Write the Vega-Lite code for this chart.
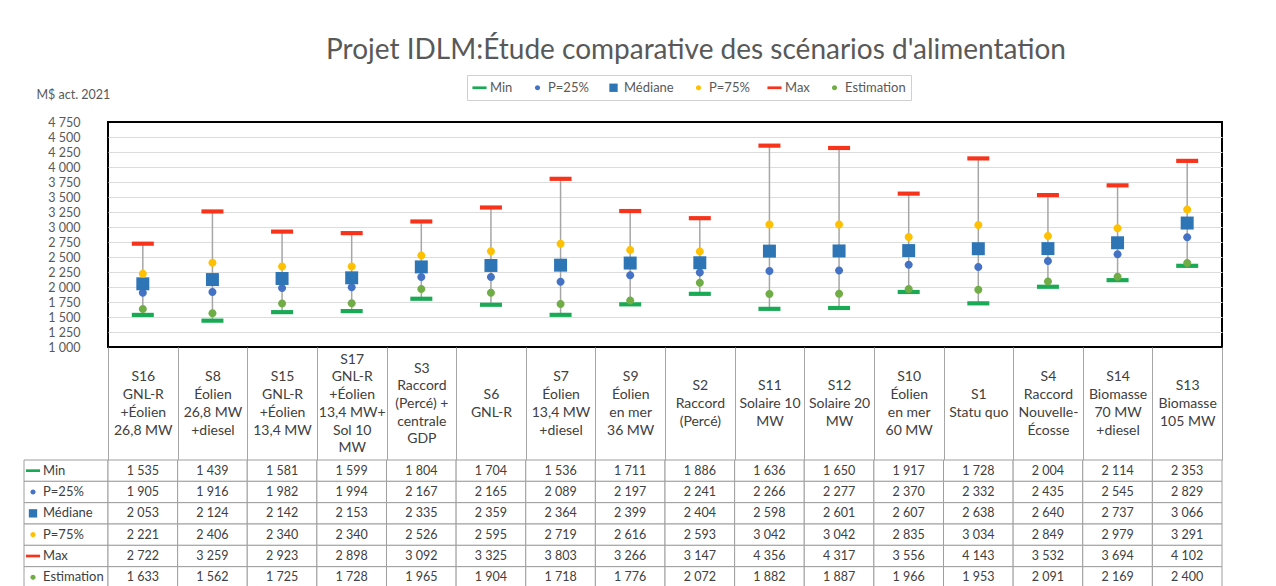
{
  "$schema": "https://vega.github.io/schema/vega-lite/v6.json",
  "background": "white",
  "padding": {"left": 23, "top": 35, "right": 10, "bottom": 0},
  "config": {
    "font": "Lato",
    "view": {"stroke": null},
    "locale": {"number": {"decimal": ",", "thousands": "\u00a0", "grouping": [3], "currency": ["", "\u00a0$"]}}
  },
  "datasets": {
    "scen": [
      {"scn": "S16|GNL-R|+Éolien|26,8 MW", "Min": 1535, "P=25%": 1905, "Médiane": 2053, "P=75%": 2221, "Max": 2722, "Estimation": 1633},
      {"scn": "S8|Éolien|26,8 MW|+diesel", "Min": 1439, "P=25%": 1916, "Médiane": 2124, "P=75%": 2406, "Max": 3259, "Estimation": 1562},
      {"scn": "S15|GNL-R|+Éolien|13,4 MW", "Min": 1581, "P=25%": 1982, "Médiane": 2142, "P=75%": 2340, "Max": 2923, "Estimation": 1725},
      {"scn": "S17|GNL-R|+Éolien|13,4 MW+|Sol 10|MW", "Min": 1599, "P=25%": 1994, "Médiane": 2153, "P=75%": 2340, "Max": 2898, "Estimation": 1728},
      {"scn": "S3|Raccord|(Percé) +|centrale|GDP", "Min": 1804, "P=25%": 2167, "Médiane": 2335, "P=75%": 2526, "Max": 3092, "Estimation": 1965},
      {"scn": "S6|GNL-R", "Min": 1704, "P=25%": 2165, "Médiane": 2359, "P=75%": 2595, "Max": 3325, "Estimation": 1904},
      {"scn": "S7|Éolien|13,4 MW|+diesel", "Min": 1536, "P=25%": 2089, "Médiane": 2364, "P=75%": 2719, "Max": 3803, "Estimation": 1718},
      {"scn": "S9|Éolien|en mer|36 MW", "Min": 1711, "P=25%": 2197, "Médiane": 2399, "P=75%": 2616, "Max": 3266, "Estimation": 1776},
      {"scn": "S2|Raccord|(Percé)", "Min": 1886, "P=25%": 2241, "Médiane": 2404, "P=75%": 2593, "Max": 3147, "Estimation": 2072},
      {"scn": "S11|Solaire 10|MW", "Min": 1636, "P=25%": 2266, "Médiane": 2598, "P=75%": 3042, "Max": 4356, "Estimation": 1882},
      {"scn": "S12|Solaire 20|MW", "Min": 1650, "P=25%": 2277, "Médiane": 2601, "P=75%": 3042, "Max": 4317, "Estimation": 1887},
      {"scn": "S10|Éolien|en mer|60 MW", "Min": 1917, "P=25%": 2370, "Médiane": 2607, "P=75%": 2835, "Max": 3556, "Estimation": 1966},
      {"scn": "S1|Statu quo", "Min": 1728, "P=25%": 2332, "Médiane": 2638, "P=75%": 3034, "Max": 4143, "Estimation": 1953},
      {"scn": "S4|Raccord|Nouvelle-|Écosse", "Min": 2004, "P=25%": 2435, "Médiane": 2640, "P=75%": 2849, "Max": 3532, "Estimation": 2091},
      {"scn": "S14|Biomasse|70 MW|+diesel", "Min": 2114, "P=25%": 2545, "Médiane": 2737, "P=75%": 2979, "Max": 3694, "Estimation": 2169},
      {"scn": "S13|Biomasse|105 MW", "Min": 2353, "P=25%": 2829, "Médiane": 3066, "P=75%": 3291, "Max": 4102, "Estimation": 2400}
    ],
    "rows": [
      {"series": "Min"}, {"series": "P=25%"}, {"series": "Médiane"}, {"series": "P=75%"}, {"series": "Max"}, {"series": "Estimation"}
    ]
  },
  "columns": 2,
  "bounds": "flush",
  "spacing": {"row": 113, "column": 0},
  "concat": [
    {
      "width": 84, "height": 225,
      "data": {"values": []},
      "mark": {"type": "point"},
      "encoding": {}
    },
    {
      "width": 1114, "height": 225,
      "view": {"stroke": "#000000", "strokeWidth": 2},
      "title": {"text": "Projet IDLM:Étude comparative des scénarios d'alimentation", "frame": "group", "anchor": "middle", "dx": 31, "offset": 23.5, "fontSize": 28, "fontWeight": "normal", "color": "#595959"},
      "data": {"name": "scen"},
      "layer": [
        {
          "mark": {"type": "rule", "color": "#A6A6A6", "strokeWidth": 1.5},
          "encoding": {
            "x": {"field": "scn", "type": "nominal", "sort": null, "scale": {"paddingInner": 0, "paddingOuter": 0},
              "axis": {"title": null, "labelAngle": 0, "labelExpr": "split(datum.label, '|')", "tickBand": "extent", "tickSize": 113, "tickColor": "#A6A6A6", "tickWidth": 1, "domain": false,
                "labelPadding": {"condition": [
                  {"test": "length(split(datum.value, '|')) == 2", "value": -65.35},
                  {"test": "length(split(datum.value, '|')) == 3", "value": -74.2},
                  {"test": "length(split(datum.value, '|')) == 5", "value": -91.9},
                  {"test": "length(split(datum.value, '|')) == 6", "value": -100.75}
                ], "value": -83.05},
                "labelBaseline": "middle", "labelFontSize": 14, "labelLineHeight": 17.7, "labelColor": "#404040", "labelLimit": 300, "labelOverlap": false, "labelFlush": false}},
            "y": {"field": "Min", "type": "quantitative", "scale": {"domain": [1000, 4750], "nice": false, "zero": false},
              "axis": {"title": "M$ act. 2021", "values": [1000, 1250, 1500, 1750, 2000, 2250, 2500, 2750, 3000, 3250, 3500, 3750, 4000, 4250, 4500, 4750], "format": ",d", "grid": true, "gridColor": "#DCDCDC", "gridOpacity": {"condition": {"test": "datum.value === 1000 || datum.value === 4750", "value": 0}, "value": 1}, "ticks": false, "domain": false, "labelOverlap": false, "labelPadding": 28, "labelFontSize": 12.5, "labelColor": "#595959", "titleAngle": 0, "titleAlign": "left", "titleBaseline": "middle", "titleX": -72, "titleY": -28, "titleFontWeight": "normal", "titleFontSize": 12.5, "titleColor": "#595959"}},
            "y2": {"field": "Max"}
          }
        },
        {
          "transform": [{"fold": ["Min", "P=25%", "Médiane", "P=75%", "Max", "Estimation"], "as": ["series", "value"]}],
          "mark": {"type": "point", "filled": true, "opacity": 1, "size": 484, "strokeWidth": 0},
          "encoding": {
            "x": {"field": "scn", "type": "nominal", "sort": null},
            "y": {"field": "value", "type": "quantitative",
              "axis": {"title": "M$ act. 2021", "values": [1000, 1250, 1500, 1750, 2000, 2250, 2500, 2750, 3000, 3250, 3500, 3750, 4000, 4250, 4500, 4750], "format": ",d", "grid": true, "gridColor": "#DCDCDC", "gridOpacity": {"condition": {"test": "datum.value === 1000 || datum.value === 4750", "value": 0}, "value": 1}, "ticks": false, "domain": false, "labelOverlap": false, "labelPadding": 28, "labelFontSize": 12.5, "labelColor": "#595959", "titleAngle": 0, "titleAlign": "left", "titleBaseline": "middle", "titleX": -72, "titleY": -28, "titleFontWeight": "normal", "titleFontSize": 12.5, "titleColor": "#595959"}},
            "color": {"field": "series", "type": "nominal",
              "scale": {"domain": ["Min", "P=25%", "Médiane", "P=75%", "Max", "Estimation"], "range": ["#1AAA55", "#4472C4", "#2E75B6", "#FFC000", "#F8331C", "#70AD47"]},
              "legend": {"title": null, "orient": "none", "legendX": 443, "legendY": -47, "direction": "horizontal", "fillColor": "white", "strokeColor": "#D0D0D0", "padding": 5, "columnPadding": 17, "labelFontSize": 13, "labelColor": "#595959", "symbolSize": 200, "labelOffset": 3, "symbolStrokeWidth": 0}},
            "shape": {"field": "series", "type": "nominal",
              "scale": {"domain": ["Min", "P=25%", "Médiane", "P=75%", "Max", "Estimation"], "range": ["M-1,-0.19L1,-0.19L1,0.19L-1,0.19Z", "M0.364,0A0.364,0.364,0,1,1,-0.364,0A0.364,0.364,0,1,1,0.364,0Z", "M-0.59,-0.59L0.59,-0.59L0.59,0.59L-0.59,0.59Z", "M0.364,0A0.364,0.364,0,1,1,-0.364,0A0.364,0.364,0,1,1,0.364,0Z", "M-1,-0.19L1,-0.19L1,0.19L-1,0.19Z", "M0.364,0A0.364,0.364,0,1,1,-0.364,0A0.364,0.364,0,1,1,0.364,0Z"]}}
          }
        }
      ]
    },
    {
      "width": 84, "height": 128,
      "data": {"name": "rows"},
      "encoding": {
        "x": {"datum": "lbl", "type": "nominal", "scale": {"paddingInner": 0, "paddingOuter": 0}, "axis": null},
        "y": {"field": "series", "type": "nominal", "sort": ["Min", "P=25%", "Médiane", "P=75%", "Max", "Estimation"], "scale": {"paddingInner": 0, "paddingOuter": 0}, "axis": null}
      },
      "layer": [
        {"mark": {"type": "rect", "fill": "white", "stroke": "#9E9E9E", "strokeWidth": 1}},
        {"mark": {"type": "point", "filled": true, "opacity": 1, "size": 200, "strokeWidth": 0, "xOffset": -33},
          "encoding": {
            "color": {"field": "series", "type": "nominal", "legend": null,
              "scale": {"domain": ["Min", "P=25%", "Médiane", "P=75%", "Max", "Estimation"], "range": ["#1AAA55", "#4472C4", "#2E75B6", "#FFC000", "#F8331C", "#70AD47"]}},
            "shape": {"field": "series", "type": "nominal", "legend": null,
              "scale": {"domain": ["Min", "P=25%", "Médiane", "P=75%", "Max", "Estimation"], "range": ["M-1,-0.19L1,-0.19L1,0.19L-1,0.19Z", "M0.364,0A0.364,0.364,0,1,1,-0.364,0A0.364,0.364,0,1,1,0.364,0Z", "M-0.59,-0.59L0.59,-0.59L0.59,0.59L-0.59,0.59Z", "M0.364,0A0.364,0.364,0,1,1,-0.364,0A0.364,0.364,0,1,1,0.364,0Z", "M-1,-0.19L1,-0.19L1,0.19L-1,0.19Z", "M0.364,0A0.364,0.364,0,1,1,-0.364,0A0.364,0.364,0,1,1,0.364,0Z"]}}
          }},
        {"mark": {"type": "text", "align": "left", "baseline": "middle", "dx": -23, "fontSize": 13, "color": "#404040"},
          "encoding": {"text": {"field": "series", "type": "nominal"}}}
      ]
    },
    {
      "width": 1114, "height": 128,
      "data": {"name": "scen"},
      "transform": [{"fold": ["Min", "P=25%", "Médiane", "P=75%", "Max", "Estimation"], "as": ["series", "value"]}],
      "encoding": {
        "x": {"field": "scn", "type": "nominal", "sort": null, "scale": {"paddingInner": 0, "paddingOuter": 0}, "axis": null},
        "y": {"field": "series", "type": "nominal", "sort": ["Min", "P=25%", "Médiane", "P=75%", "Max", "Estimation"], "scale": {"paddingInner": 0, "paddingOuter": 0}, "axis": null}
      },
      "layer": [
        {"mark": {"type": "rect", "fill": "white", "stroke": "#9E9E9E", "strokeWidth": 1}},
        {"mark": {"type": "text", "baseline": "middle", "fontSize": 12.5, "color": "#404040"},
          "encoding": {"text": {"field": "value", "type": "quantitative", "format": ",d"}}}
      ]
    }
  ]
}
